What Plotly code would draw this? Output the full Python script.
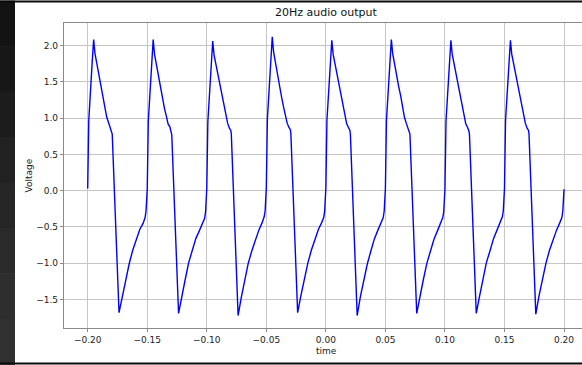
import plotly.graph_objects as go

# ---- data (time in s, voltage in V) ----
time_c1 = [-0.2000,-0.1991,-0.1963,-0.1950,-0.1939,-0.1922,-0.1905,-0.1888,-0.1872,-0.1855,-0.1840,-0.1825,-0.1810,-0.1798,-0.1794,-0.1737,-0.1710,-0.1682,-0.1652,-0.1622,-0.1592,-0.1562,-0.1535,-0.1518,-0.1510]
volt_c1 = [0.03,0.97,1.75,2.08,1.89,1.74,1.57,1.44,1.29,1.15,1.01,0.94,0.86,0.83,0.78,-1.68,-1.46,-1.21,-1.01,-0.82,-0.68,-0.53,-0.45,-0.37,-0.28]
time_c2 = [-0.1500,-0.1491,-0.1463,-0.1450,-0.1439,-0.1422,-0.1405,-0.1388,-0.1372,-0.1355,-0.1340,-0.1325,-0.1310,-0.1298,-0.1294,-0.1237,-0.1210,-0.1182,-0.1152,-0.1122,-0.1092,-0.1062,-0.1035,-0.1018,-0.1010]
volt_c2 = [0.02,0.96,1.76,2.08,1.88,1.72,1.59,1.42,1.31,1.13,1.03,0.92,0.88,0.82,0.77,-1.69,-1.44,-1.23,-0.99,-0.84,-0.66,-0.55,-0.43,-0.38,-0.29]
time_c3 = [-0.1000,-0.0991,-0.0963,-0.0950,-0.0939,-0.0922,-0.0905,-0.0888,-0.0872,-0.0855,-0.0840,-0.0825,-0.0810,-0.0798,-0.0794,-0.0737,-0.0710,-0.0682,-0.0652,-0.0622,-0.0592,-0.0562,-0.0535,-0.0518,-0.0510]
volt_c3 = [0.03,0.95,1.74,2.06,1.87,1.73,1.57,1.43,1.30,1.14,1.02,0.93,0.86,0.83,0.78,-1.72,-1.47,-1.22,-1.00,-0.83,-0.67,-0.54,-0.44,-0.36,-0.28]
time_c4 = [-0.0500,-0.0491,-0.0463,-0.0450,-0.0439,-0.0422,-0.0405,-0.0388,-0.0372,-0.0355,-0.0340,-0.0325,-0.0310,-0.0298,-0.0294,-0.0237,-0.0210,-0.0182,-0.0152,-0.0122,-0.0092,-0.0062,-0.0035,-0.0018,-0.0010]
volt_c4 = [0.04,0.99,1.78,2.12,1.91,1.74,1.58,1.44,1.29,1.15,1.02,0.93,0.87,0.84,0.79,-1.68,-1.45,-1.21,-1.00,-0.82,-0.67,-0.53,-0.44,-0.37,-0.28]
time_c5 = [0.0000,0.0009,0.0037,0.0050,0.0061,0.0078,0.0095,0.0112,0.0128,0.0145,0.0160,0.0175,0.0190,0.0202,0.0206,0.0263,0.0290,0.0318,0.0348,0.0378,0.0408,0.0438,0.0465,0.0482,0.0490]
volt_c5 = [0.03,0.97,1.75,2.07,1.88,1.73,1.58,1.42,1.30,1.14,1.02,0.92,0.87,0.83,0.78,-1.72,-1.46,-1.22,-1.01,-0.83,-0.66,-0.54,-0.44,-0.37,-0.28]
time_c6 = [0.0500,0.0509,0.0537,0.0550,0.0561,0.0578,0.0595,0.0612,0.0628,0.0645,0.0660,0.0675,0.0690,0.0702,0.0706,0.0763,0.0790,0.0818,0.0848,0.0878,0.0908,0.0938,0.0965,0.0982,0.0990]
volt_c6 = [0.03,0.97,1.76,2.08,1.89,1.72,1.58,1.43,1.31,1.14,1.01,0.93,0.86,0.83,0.78,-1.69,-1.45,-1.23,-1.00,-0.82,-0.67,-0.55,-0.43,-0.37,-0.29]
time_c7 = [0.1000,0.1009,0.1037,0.1050,0.1061,0.1078,0.1095,0.1112,0.1128,0.1145,0.1160,0.1175,0.1190,0.1202,0.1206,0.1263,0.1290,0.1318,0.1348,0.1378,0.1408,0.1438,0.1465,0.1482,0.1490]
volt_c7 = [0.02,0.96,1.75,2.07,1.88,1.73,1.57,1.44,1.29,1.15,1.02,0.92,0.87,0.82,0.77,-1.69,-1.46,-1.22,-0.99,-0.83,-0.66,-0.54,-0.44,-0.36,-0.28]
time_c8 = [0.1500,0.1509,0.1537,0.1550,0.1561,0.1578,0.1595,0.1612,0.1628,0.1645,0.1660,0.1675,0.1690,0.1702,0.1706,0.1763,0.1790,0.1818,0.1848,0.1878,0.1908,0.1938,0.1965,0.1982,0.1990,0.2000]
volt_c8 = [0.03,0.97,1.75,2.07,1.88,1.73,1.58,1.43,1.30,1.14,1.02,0.93,0.86,0.83,0.78,-1.70,-1.45,-1.22,-1.00,-0.82,-0.67,-0.54,-0.44,-0.37,-0.28,0.02]

x_ticks = [-0.20, -0.15, -0.10, -0.05, 0.00, 0.05, 0.10, 0.15, 0.20]
y_ticks = [-1.5, -1.0, -0.5, 0.0, 0.5, 1.0, 1.5, 2.0]

time = time_c1 + time_c2 + time_c3 + time_c4 + time_c5 + time_c6 + time_c7 + time_c8
volt = volt_c1 + volt_c2 + volt_c3 + volt_c4 + volt_c5 + volt_c6 + volt_c7 + volt_c8

W, H = 582, 365
ML, MR, MT, MB = 64, 0, 22.5, 36.5
PW, PH = W - ML - MR, H - MT - MB

def px(x):
    return (x - ML) / PW

def py(y):
    return (H - MB - y) / PH

FONT = "DejaVu Sans"

fig = go.Figure()
fig.add_trace(go.Scatter(x=time, y=volt, mode="lines",
                         line=dict(color="#0000ff", width=1.4),
                         hoverinfo="skip", showlegend=False))

axis_common = dict(showgrid=True, gridcolor="#c6c6c6", gridwidth=1,
                   zeroline=False, showline=True, linecolor="#8a8a8a", linewidth=1.2,
                   ticks="outside", ticklen=3, tickwidth=1, tickcolor="#8a8a8a",
                   tickfont=dict(family=FONT, size=9, color="#222222"),
                   automargin=False)

fig.update_xaxes(range=[-0.2199, 0.2151], tickvals=x_ticks, tickformat=".2f",
                 mirror=True, **axis_common)
fig.update_yaxes(range=[-1.891, 2.309], tickvals=y_ticks, tickformat=".1f",
                 mirror=False, **axis_common)

shapes = []
# dark screenshot frame: left strip (gradient), top and bottom bars
bands = ["#131313", "#171717", "#1c1c1c", "#212121", "#262626", "#2a2a2a", "#2e2e2e", "#313131"]
n = len(bands)
for i, c in enumerate(bands):
    y0 = i * H / n
    y1 = (i + 1) * H / n
    shapes.append(dict(type="rect", xref="paper", yref="paper",
                       x0=px(0), x1=px(15), y0=py(y1 + 0.5), y1=py(y0),
                       fillcolor=c, line=dict(width=0), layer="above"))
shapes.append(dict(type="rect", xref="paper", yref="paper",
                   x0=px(0), x1=px(W), y0=py(2), y1=py(0),
                   fillcolor="#0a0a0a", line=dict(width=0), layer="above"))
shapes.append(dict(type="rect", xref="paper", yref="paper",
                   x0=px(0), x1=px(W), y0=py(H), y1=py(363),
                   fillcolor="#0a0a0a", line=dict(width=0), layer="above"))

annotations = [
    dict(text="20Hz audio output", xref="paper", yref="paper",
         x=px(326), y=py(12), xanchor="center", yanchor="middle",
         showarrow=False, font=dict(family=FONT, size=11, color="#111111")),
    dict(text="time", xref="paper", yref="paper",
         x=px(326), y=py(352), xanchor="center", yanchor="middle",
         showarrow=False, font=dict(family=FONT, size=9, color="#222222")),
    dict(text="Voltage", xref="paper", yref="paper", textangle=-90,
         x=px(28), y=py(175.5), xanchor="center", yanchor="middle",
         showarrow=False, font=dict(family=FONT, size=9, color="#222222")),
]

fig.update_layout(width=W, height=H,
                  margin=dict(l=ML, r=MR, t=MT, b=MB, pad=0, autoexpand=False),
                  paper_bgcolor="white", plot_bgcolor="white",
                  shapes=shapes, annotations=annotations,
                  font=dict(family=FONT))

fig.write_html("out.html", config={"displayModeBar": False},
               post_script="document.body.style.margin='0';document.body.style.overflow='hidden';")
